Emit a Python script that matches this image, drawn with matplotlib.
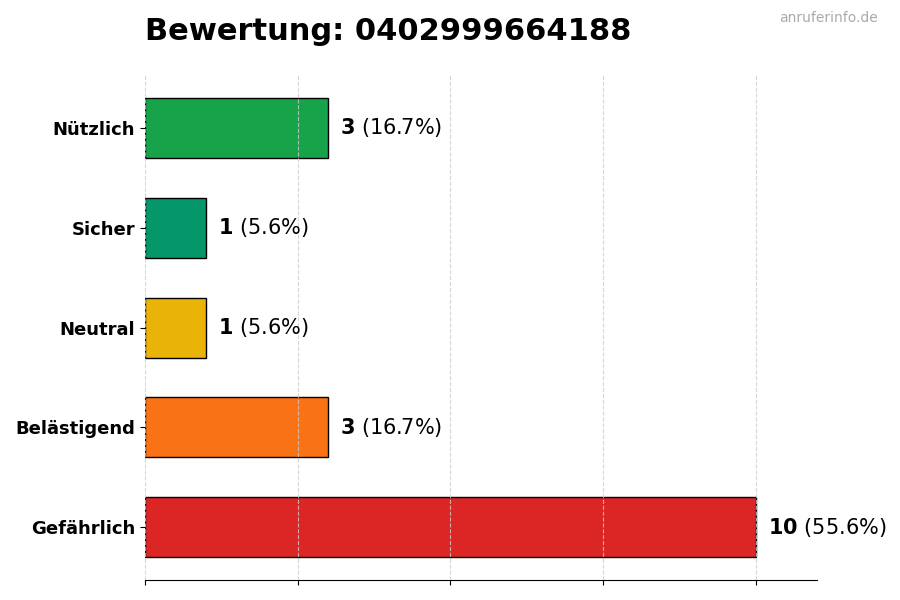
import matplotlib
matplotlib.use('Agg')
import matplotlib.pyplot as plt

# Daten
kategorien = ["Nützlich", "Sicher", "Neutral", "Belästigend", "Gefährlich"]
anzahl = [3, 1, 1, 3, 10]
prozent = [16.7, 5.6, 5.6, 16.7, 55.6]
farben = ["#16a34a", "#059669", "#eab308", "#f97316", "#dc2626"]
titel = "Bewertung: 0402999664188"
x_ticks = [0, 2.5, 5, 7.5, 10]

fig = plt.figure(figsize=(9, 6), dpi=100)
ax = fig.add_axes([0.161, 0.033, 0.747, 0.842])

pos = list(range(len(kategorien)))[::-1]
ax.barh(pos, anzahl, height=0.6, color=farben, edgecolor='black', linewidth=1, zorder=2)

for p, n, pr in zip(pos, anzahl, prozent):
    ax.text(n + 0.2, p, r"$\bf{%d}$ (%.1f%%)" % (n, pr), va='center', ha='left', fontsize=15)

ax.set_yticks(pos)
ax.set_yticklabels(kategorien, fontsize=13, fontweight='bold')
ax.set_xticks(x_ticks)
ax.set_xticklabels([])
ax.set_xlim(0, 11)

ax.grid(axis='x', linestyle='--', color='#cccccc', alpha=0.8, linewidth=0.8, zorder=3)
ax.set_axisbelow(False)
for s in ['top', 'right', 'left']:
    ax.spines[s].set_visible(False)

fig.text(0.161, 0.947, titel, fontsize=22, fontweight='bold', ha='left', va='center')
fig.text(0.975, 0.97, "anruferinfo.de", fontsize=10, color='#aaaaaa', ha='right', va='center')

plt.savefig("out.png", dpi=100)
